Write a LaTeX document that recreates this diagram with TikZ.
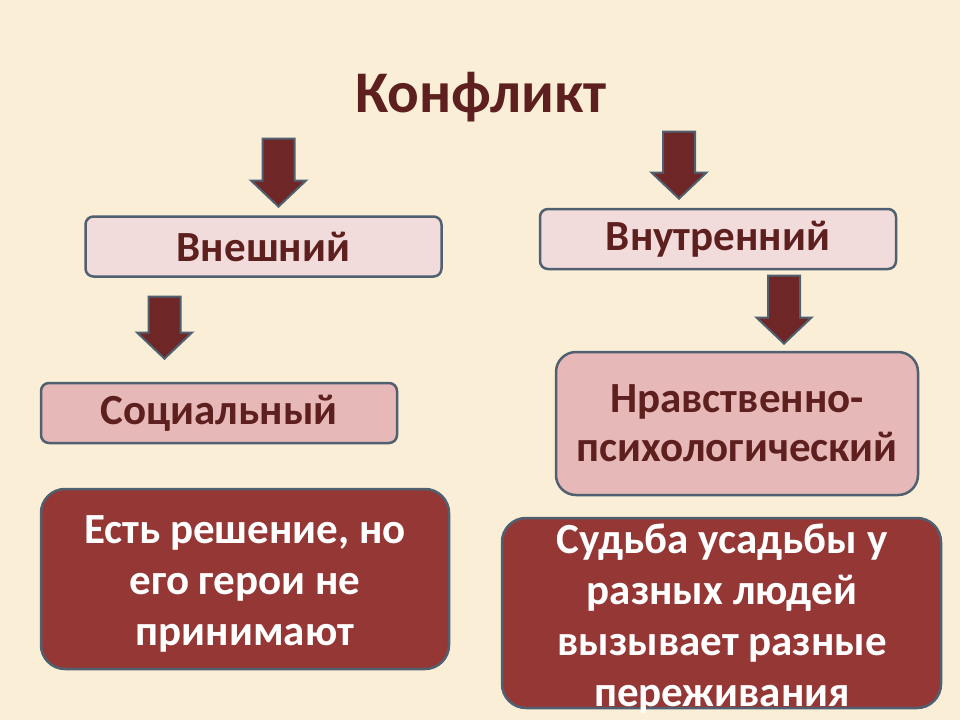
\documentclass[tikz,border=0pt]{standalone}
\usepackage{fontspec}
\setmainfont{Carlito}
\usepackage{xcolor,tikz}
\usetikzlibrary{shapes.arrows}
\definecolor{paper}{HTML}{FAEFD6}
\definecolor{frame}{HTML}{506070}
\definecolor{maroon}{HTML}{953735}
\definecolor{wine}{HTML}{6E2626}
\definecolor{ink}{HTML}{5E1F1F}
\definecolor{blush}{HTML}{F2DCDB}
\definecolor{rose}{HTML}{E6B9B8}
\begin{document}
\begin{tikzpicture}[x=0.5pt,y=-0.5pt,
kind/.style={draw=frame,line width=1.25pt,rounded corners=4pt,fill=blush,text=ink,
font=\fontsize{21.5}{24.5}\selectfont\bfseries,minimum width=178pt,minimum height=30pt,align=center,inner sep=0pt},
sort/.style={kind,fill=rose},
verdict/.style={draw=frame,line width=1.25pt,rounded corners=12pt,fill=maroon,inner sep=0pt},
note/.style={text=white,font=\fontsize{21.5}{25.5}\selectfont\bfseries,align=center,inner sep=0pt},
down/.style={single arrow,shape border rotate=270,draw=frame,line width=1pt,fill=wine,inner sep=7.5pt,
minimum width=26.5pt,single arrow head extend=5.75pt,single arrow tip angle=93,anchor=tip}]
\fill[paper] (0,0) rectangle (960,720);
\node[text=ink,font=\fontsize{29.5}{34}\selectfont\bfseries] (conflict) at (481,97) {Конфликт};
% two kinds of conflict
\node[kind] (outer) at (263.5,246.5) {Внешний};
\node[kind] (inner) at (718,239) {Внутренний};
\node[sort] (social) at (219,413) {Социальный};
\node[sort,minimum width=181pt,minimum height=71.5pt,rounded corners=10pt] (moral) at (737,423.5)
  {Нравственно-\\психологический};
% block arrows
\node[down,minimum height=34pt] (a1) at (278.5,208) {};
\node[down,minimum height=33.5pt] (a2) at (679,200) {};
\node[down,minimum height=31pt] (a3) at (164.5,360) {};
\node[down,minimum height=34pt] (a4) at (784,345) {};
% explanations
\node[verdict,minimum width=204pt,minimum height=90pt] (solved) at (245,579) {};
\node[note] (solvedtext) at (245,584) {Есть решение, но\\его герои не\\принимают};
\node[verdict,minimum width=219.5pt,minimum height=95pt] (fate) at (721.5,613) {};
\node[note] (fatetext) at (722,619) {Судьба усадьбы у\\разных людей\\вызывает разные\\переживания};
\end{tikzpicture}
\end{document}
